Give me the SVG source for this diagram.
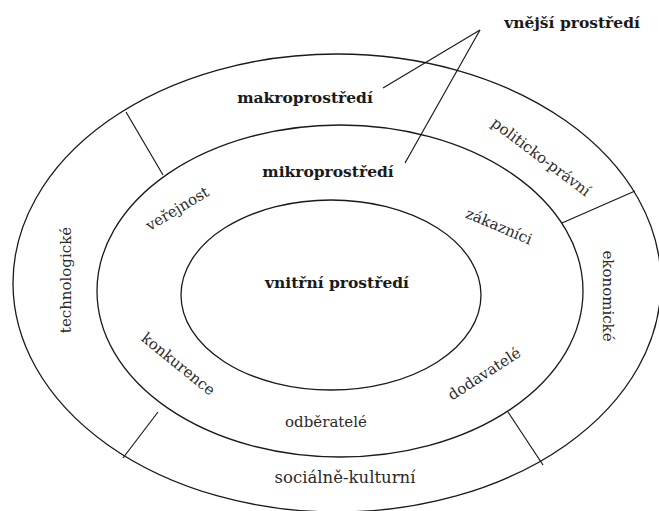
<svg xmlns="http://www.w3.org/2000/svg" width="659" height="511" viewBox="0 0 659 511">
<style>
.ring{fill:none;stroke:#1a1a1a;stroke-width:1.3}
.ln{stroke:#1a1a1a;stroke-width:1.2;fill:none}
.b{font-family:'DejaVu Serif',serif;font-weight:bold;font-size:15.5px;fill:#1a1a1a}
.r{font-family:'DejaVu Serif',serif;font-size:15px;fill:#2a2a2a}
</style>
<rect width="659" height="511" fill="#fff"/>
<g id="outer"><ellipse class="ring" cx="337" cy="283" rx="324" ry="229"/></g>
<g id="middle"><ellipse class="ring" cx="340" cy="291" rx="243" ry="166"/></g>
<g id="inner"><ellipse class="ring" cx="331" cy="295" rx="150" ry="95"/></g>
<g id="connectors">
<line class="ln" x1="126" y1="112" x2="163" y2="175"/>
<line class="ln" x1="562" y1="223" x2="635" y2="191"/>
<line class="ln" x1="508" y1="412" x2="543" y2="465"/>
<line class="ln" x1="158" y1="412" x2="123" y2="458"/>
<line class="ln" x1="480" y1="30" x2="383" y2="88"/>
<line class="ln" x1="480" y1="30" x2="405" y2="163"/>
</g>
<g id="labels">
<text class="b" x="572" y="28" text-anchor="middle">vnější prostředí</text>
<text class="b" x="305" y="103" text-anchor="middle">makroprostředí</text>
<text class="b" x="328" y="177" text-anchor="middle">mikroprostředí</text>
<text class="b" x="337" y="288" text-anchor="middle">vnitřní prostředí</text>
<text class="r" text-anchor="middle" transform="translate(538,161) rotate(37)">politicko-právní</text>
<text class="r" text-anchor="middle" transform="translate(180,213) rotate(-31)">veřejnost</text>
<text class="r" text-anchor="middle" transform="translate(71,280) rotate(-90)">technologické</text>
<text class="r" text-anchor="middle" transform="translate(603,296) rotate(90)">ekonomické</text>
<text class="r" text-anchor="middle" transform="translate(497,231) rotate(23)">zákazníci</text>
<text class="r" text-anchor="middle" transform="translate(487,378) rotate(-33)">dodavatelé</text>
<text class="r" text-anchor="middle" transform="translate(175,368) rotate(39)">konkurence</text>
<text class="r" x="326" y="427" text-anchor="middle">odběratelé</text>
<text class="r" x="345" y="483" text-anchor="middle" style="font-size:16.5px">sociálně-kulturní</text>
</g>
</svg>
